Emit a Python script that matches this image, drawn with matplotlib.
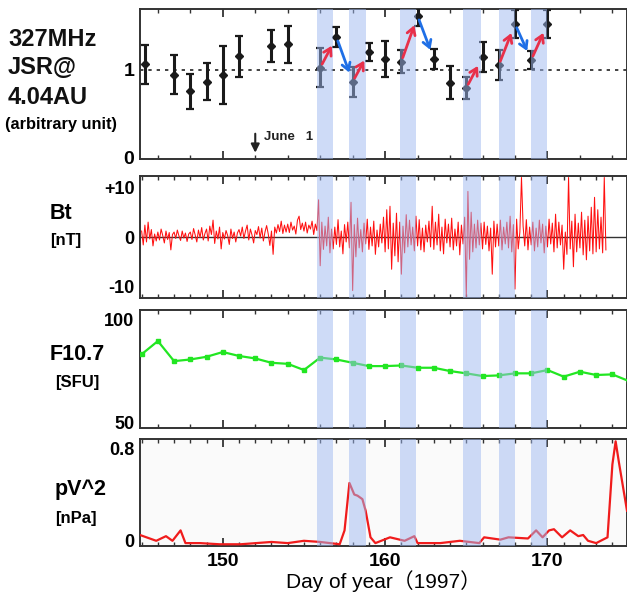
import numpy as np
import matplotlib
matplotlib.use("Agg")
import matplotlib.pyplot as plt
from matplotlib.ticker import MultipleLocator

plt.rcParams['font.family'] = ['Liberation Sans', 'Noto Sans CJK JP', 'DejaVu Sans']

# --- 327 MHz JSR (arbitrary unit) ---
jsr_day = [145.2, 147, 148, 149, 150, 151, 153, 154, 156, 157, 158, 159, 160,
           161, 162, 163, 164, 165, 166, 167, 168, 169, 170]
jsr_val = [1.06, 0.94, 0.75, 0.86, 0.94, 1.15, 1.27, 1.29, 1.02, 1.37, 0.86, 1.20, 1.12,
           1.09, 1.61, 1.12, 0.85, 0.79, 1.14, 1.05, 1.52, 1.11, 1.52]
jsr_err = [0.22, 0.22, 0.20, 0.21, 0.33, 0.23, 0.18, 0.21, 0.22, 0.11, 0.17, 0.10, 0.20,
           0.13, 0.11, 0.11, 0.19, 0.13, 0.17, 0.17, 0.16, 0.10, 0.16]

# arrows between JSR points: (from day, to day)
up_arrows = [(156, 157), (158, 159), (161, 162), (165, 166), (167, 168), (169, 170)]
down_arrows = [(157, 158), (162, 163), (168, 169)]

# --- Bt [nT], 0.1 day samples starting at day 145.0 ---
bt_start = 145.0
bt_step = 0.1
bt = [
    1.2, -1.6, 2.4, -1.0, 3.0, -0.4, 1.5, -1.8, 0.6, -0.8,
    1.0, -0.6, 1.6, 0.3, -1.2, 1.2, -0.5, 0.9, -2.6, 0.5,
    1.0, -0.3, 1.4, 0.2, -0.7, 1.2, -0.2, 0.8, -0.9, 0.6,
    1.0, -0.5, 1.7, 0.4, -1.0, 1.4, -0.1, 1.9, -0.6, 0.7,
    1.6, -0.8, 2.2, 0.5, 3.4, -1.3, 1.2, -0.4, 2.0, -2.4,
    0.9, -0.4, 1.3, 0.3, -1.5, 1.6, -0.3, 1.0, -1.0, 0.8,
    1.5, 0.2, 2.0, -0.3, 1.2, 2.4, -0.6, 1.6, 0.4, -1.2,
    1.3, 0.5, 2.1, -0.2, 1.8, -0.8, 1.0, 2.3, 0.6, -1.7,
    1.2, -3.5, 2.0, 0.8, 2.5, 1.1, 3.2, 0.7, 2.4, 1.0,
    2.6, 0.9, 3.0, 1.4, 2.2, 0.6, 3.4, 4.2, 1.5, 2.8,
    1.2, 3.0, 0.8, 2.4, 1.6, 3.2, 0.5, 2.6, 1.3, 7.5,
    -5.8, 3.0, -2.5, 2.2, -1.8, 4.0, -3.2, 1.6, -2.4, 2.0,
    -1.5, 3.5, -2.0, 1.2, -3.4, 2.5, -1.0, 3.0, -2.2, 7.0,
    -10.8, 2.5, -4.0, 3.8, -2.2, 1.5, -3.0, 2.8, -1.4, 3.6,
    -2.5, 2.0, -1.8, 3.2, -3.5, 1.4, -2.0, 2.6, -1.2, 4.0,
    -3.0, 5.5, -2.4, 6.2, -6.5, 2.8, -3.8, 4.8, -5.0, 3.0,
    -7.5, 2.2, -3.2, 4.5, -2.0, 3.4, -1.6, 2.0, -2.8, 4.2,
    -1.8, 3.5, -2.6, 1.8, -3.0, 2.4, -1.0, 3.2, -2.0, 6.2,
    -2.5, 3.0, -1.6, 4.6, -2.8, 2.0, -3.4, 3.6, -1.2, 2.6,
    -2.0, 3.8, -2.6, 1.6, -1.8, 3.0, -3.6, 2.4, -1.4, 4.0,
    -12.0, 9.2, -4.5, 5.0, -3.0, 2.6, -2.2, 3.4, -1.6, 2.8,
    -2.4, 3.0, -1.5, 2.2, -2.8, 1.8, -7.5, 3.2, -2.0, 2.6,
    -1.8, 3.4, -2.6, 2.0, -1.4, 3.0, -2.2, 4.2, -3.0, 2.5,
    -10.5, 3.6, -2.4, 1.0, 12.0, 2.2, -1.8, 3.5, -2.6, 2.0,
    -1.6, 3.0, -2.8, 1.8, -2.0, 3.4, -1.2, 2.6, -3.2, 2.2,
    -2.0, 3.6, -1.4, 2.8, -3.0, 4.6, -2.2, 3.0, -1.6, 2.4,
    -6.5, 1.0, -3.5, 12.0, -2.4, 3.2, -6.0, 4.6, -3.0, 2.8,
    -2.2, 5.0, -3.6, 3.4, -4.6, 4.2, -2.8, 6.0, -3.4, 8.0,
    -3.0, 5.5, -2.4, 4.0, -3.2, 12.0, -2.6,
]

# --- F10.7 [SFU], daily ---
f107_day = list(range(145, 176))
f107 = [83.1, 89.5, 79.8, 80.6, 81.9, 84.2, 82.3, 81.1, 79.0, 78.5,
        75.5, 81.5, 80.6, 79.0, 77.4, 77.4, 77.7, 76.6, 76.6, 75.0,
        73.9, 72.6, 72.9, 73.9, 73.9, 75.5, 72.3, 74.7, 73.1, 73.4, 70.2]

# --- pV^2 [nPa] ---
pv_day = [144.9, 145.9, 146.5, 146.9, 147.4, 147.7, 148.6, 149.8, 151.1, 153.0,
          154.0, 155.0, 156.0, 157.2, 157.5, 157.8, 158.1, 158.3, 158.6, 158.8,
          159.1, 159.4, 160.3, 161.2, 161.8, 162.0, 163.4, 164.6, 165.8, 166.1,
          167.1, 167.6, 168.8, 169.3, 169.7, 170.1, 170.4, 170.9, 171.4, 171.9,
          172.2, 172.5, 173.0, 173.7, 174.0, 174.2, 174.4, 174.9]
pv = [0.05, 0.0, 0.04, 0.0, 0.09, -0.02, -0.02, -0.03, -0.03, -0.01,
      -0.02, 0.0, -0.01, -0.03, 0.09, 0.50, 0.40, 0.39, 0.36, 0.26,
      0.03, -0.02, 0.03, 0.0, 0.04, -0.02, -0.02, 0.0, -0.02, 0.03,
      0.01, 0.03, 0.02, 0.09, 0.03, 0.09, 0.10, 0.03, 0.09, 0.04,
      0.05, 0.0, -0.02, 0.03, 0.66, 0.86, 0.68, 0.26]

# shaded intervals (days)
bands = [(155.8, 156.8), (157.8, 158.8), (160.9, 161.9),
         (164.8, 165.9), (167.0, 168.0), (169.0, 170.0)]

june1 = 152

W, H = 627, 595
fig = plt.figure(figsize=(W / 100, H / 100), dpi=100)

def box(top, bottom):
    return [140 / W, 1 - bottom / H, 1 - 140 / W, (bottom - top) / H]

ax1 = fig.add_axes(box(9, 159))
ax2 = fig.add_axes(box(176, 298))
ax3 = fig.add_axes(box(310, 428))
ax4 = fig.add_axes(box(439, 546))
axes = [ax1, ax2, ax3, ax4]

band_col = '#9fb9f1'
for ax in axes:
    ax.set_xlim(144.9, 174.9)
    for a, b in bands:
        ax.axvspan(a, b, color=band_col, alpha=0.5, lw=0, zorder=5)
    ax.xaxis.set_major_locator(MultipleLocator(10))
    ax.tick_params(axis='x', which='both', direction='in', top=True, bottom=True,
                   labelbottom=False, color='#333333')
    ax.tick_params(axis='x', which='major', length=6, width=1.3)
    ax.tick_params(axis='x', which='minor', length=3, width=1.0)
    ax.tick_params(axis='y', length=0, labelsize=13, pad=4)
    for s in ax.spines.values():
        s.set_linewidth(1.4)
        s.set_color('#333333')

ax1.xaxis.set_minor_locator(MultipleLocator(2))
ax2.xaxis.set_minor_locator(MultipleLocator(1))
ax3.xaxis.set_minor_locator(MultipleLocator(2))
ax4.xaxis.set_minor_locator(MultipleLocator(1))

# panel 1: JSR
ax1.errorbar(jsr_day, jsr_val, yerr=jsr_err, fmt='D', color='#1a1a1a', ms=4,
             elinewidth=2.2, capsize=3, capthick=1.6, zorder=3)
ax1.axhline(1.0, color='#222222', ls=(0, (2, 3)), lw=1.2, zorder=1)
ax1.set_ylim(-0.02, 1.69)
ax1.set_yticks([0, 1])
ax1.set_yticklabels(['0', '1'], fontsize=14, fontweight='bold')
jsr_map = dict(zip([round(d) for d in jsr_day], jsr_val))
for pairs, col in [(up_arrows, '#e8304a'), (down_arrows, '#1f6fe6')]:
    for d0, d1 in pairs:
        ax1.annotate('', xy=(d1, jsr_map[d1]), xytext=(d0, jsr_map[d0]),
                     arrowprops=dict(arrowstyle='->,head_length=0.5,head_width=0.3',
                                     color=col, lw=2, shrinkA=3, shrinkB=7),
                     zorder=6)
ax1.annotate('', xy=(june1, 0.02), xytext=(june1, 0.3),
             arrowprops=dict(arrowstyle='-|>,head_length=0.5,head_width=0.25',
                             color='#222222', lw=1.5), zorder=4)
ax1.text(june1 + 0.55, 0.2, 'June   1', fontsize=9.5, fontweight='bold', color='#222222')

# panel 2: Bt
bt_day = bt_start + bt_step * np.arange(len(bt))
ax2.plot(bt_day, bt, color='#ff1010', lw=0.75, zorder=3)
ax2.axhline(0, color='#333333', lw=1.0, zorder=2)
ax2.set_ylim(-12.3, 12.3)
ax2.set_yticks([-10, 0, 10])
ax2.set_yticklabels(['-10', '0', '+10'], fontsize=13, fontweight='bold')

# panel 3: F10.7
ax3.plot(f107_day, f107, color='#22e622', lw=1.6, marker='s', ms=3, zorder=3)
ax3.set_ylim(47.5, 104.5)
ax3.set_yticks([50, 100])
ax3.set_yticklabels(['50', '100'], fontsize=13, fontweight='bold')

# panel 4: pV^2
ax4.set_facecolor('#fafafa')
ax4.plot(pv_day, pv, color='#f01c1c', lw=1.6, zorder=3)
ax4.set_ylim(-0.045, 0.88)
ax4.set_yticks([0, 0.8])
ax4.set_yticklabels(['0', '0.8'], fontsize=13, fontweight='bold')
ax4.tick_params(axis='x', labelbottom=True, labelsize=14, pad=5)
for lab in ax4.get_xticklabels():
    lab.set_fontweight('bold')
ax4.set_xlabel('Day of year（1997）', fontsize=15, labelpad=0)

# left-side labels
for txt, y in [('327MHz', 39), ('JSR@', 68), ('4.04AU', 97)]:
    fig.text(8 / W, 1 - y / H, txt, fontsize=17, fontweight='bold', ha='left',
             va='center', color='#111111')
fig.text(5 / W, 1 - 125 / H, '(arbitrary unit)', fontsize=11.8, fontweight='bold',
         ha='left', va='center')
fig.text(50 / W, 1 - 213 / H, 'Bt', fontsize=15.5, fontweight='bold', ha='left', va='center')
fig.text(50 / W, 1 - 240 / H, '[nT]', fontsize=12, fontweight='bold', ha='left', va='center')
fig.text(50 / W, 1 - 355 / H, 'F10.7', fontsize=15.5, fontweight='bold', ha='left', va='center')
fig.text(55 / W, 1 - 383 / H, '[SFU]', fontsize=12, fontweight='bold', ha='left', va='center')
fig.text(55 / W, 1 - 490 / H, 'pV^2', fontsize=15.5, fontweight='bold', ha='left', va='center')
fig.text(55 / W, 1 - 518 / H, '[nPa]', fontsize=12, fontweight='bold', ha='left', va='center')

fig.savefig('out.png', dpi=100)
